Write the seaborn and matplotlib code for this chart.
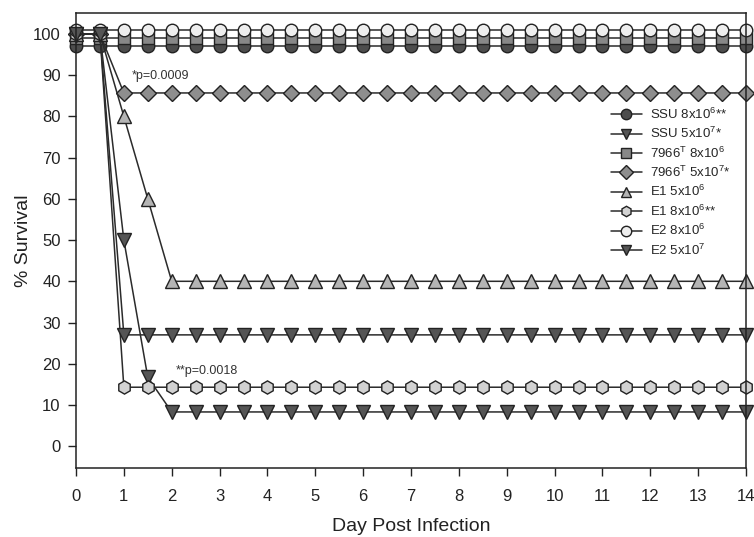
import matplotlib
matplotlib.use("Agg")
import matplotlib.pyplot as plt
import seaborn as sns

# ---------------------------------------------------------------
# data (day post infection, % survival)
# ---------------------------------------------------------------
days = [0, 0.5, 1, 1.5, 2, 2.5, 3, 3.5, 4, 4.5, 5, 5.5, 6, 6.5, 7, 7.5,
        8, 8.5, 9, 9.5, 10, 10.5, 11, 11.5, 12, 12.5, 13, 13.5, 14]

ssu_8e6 = [97, 97, 97, 97, 97, 97, 97, 97, 97, 97, 97, 97, 97, 97, 97, 97,
           97, 97, 97, 97, 97, 97, 97, 97, 97, 97, 97, 97, 97]
ssu_5e7 = [100, 100, 50, 16.7, 8.3, 8.3, 8.3, 8.3, 8.3, 8.3, 8.3, 8.3, 8.3, 8.3, 8.3, 8.3,
           8.3, 8.3, 8.3, 8.3, 8.3, 8.3, 8.3, 8.3, 8.3, 8.3, 8.3, 8.3, 8.3]
t7966_8e6 = [99, 99, 99, 99, 99, 99, 99, 99, 99, 99, 99, 99, 99, 99, 99, 99,
             99, 99, 99, 99, 99, 99, 99, 99, 99, 99, 99, 99, 99]
t7966_5e7 = [100, 100, 85.7, 85.7, 85.7, 85.7, 85.7, 85.7, 85.7, 85.7, 85.7, 85.7, 85.7, 85.7, 85.7, 85.7,
             85.7, 85.7, 85.7, 85.7, 85.7, 85.7, 85.7, 85.7, 85.7, 85.7, 85.7, 85.7, 85.7]
e1_5e6 = [100, 100, 80, 60, 40, 40, 40, 40, 40, 40, 40, 40, 40, 40, 40, 40,
          40, 40, 40, 40, 40, 40, 40, 40, 40, 40, 40, 40, 40]
e1_8e6 = [100, 100, 14.3, 14.3, 14.3, 14.3, 14.3, 14.3, 14.3, 14.3, 14.3, 14.3, 14.3, 14.3, 14.3, 14.3,
          14.3, 14.3, 14.3, 14.3, 14.3, 14.3, 14.3, 14.3, 14.3, 14.3, 14.3, 14.3, 14.3]
e2_8e6 = [101, 101, 101, 101, 101, 101, 101, 101, 101, 101, 101, 101, 101, 101, 101, 101,
          101, 101, 101, 101, 101, 101, 101, 101, 101, 101, 101, 101, 101]
e2_5e7 = [100, 100, 27, 27, 27, 27, 27, 27, 27, 27, 27, 27, 27, 27, 27, 27,
          27, 27, 27, 27, 27, 27, 27, 27, 27, 27, 27, 27, 27]

labels = [r"SSU 8x10$^{6}$**", r"SSU 5x10$^{7}$*",
          r"7966$^{\mathrm{T}}$ 8x10$^{6}$", r"7966$^{\mathrm{T}}$ 5x10$^{7}$*",
          r"E1 5x10$^{6}$", r"E1 8x10$^{6}$**",
          r"E2 8x10$^{6}$", r"E2 5x10$^{7}$"]
series = [ssu_8e6, ssu_5e7, t7966_8e6, t7966_5e7, e1_5e6, e1_8e6, e2_8e6, e2_5e7]

# marker and face colour per group
markers = ["o", "v", "s", "D", "^", "h", "o", "v"]
faces = ["#4d4d4d", "#555555", "#888888", "#8e8e8e", "#b4b4b4", "#d2d2d2", "#eeeeee", "#555555"]
msizes = [9, 9.5, 8, 8, 9.5, 9.5, 9, 9.5]

sns.set_style("ticks")
plt.rcParams["font.family"] = ["Liberation Sans", "DejaVu Sans"]
plt.rcParams["mathtext.fontset"] = "custom"
plt.rcParams["mathtext.rm"] = "Liberation Sans"

fig = plt.figure(figsize=(7.54, 5.37), dpi=100)
ax = fig.add_axes([76 / 754, 1 - 468 / 537, 670 / 754, 455 / 537])

for vals, lab, mk, fc, ms in zip(series, labels, markers, faces, msizes):
    sns.lineplot(x=days, y=vals, ax=ax, label=lab, color="#2b2b2b", linewidth=1.1,
                 marker=mk, markersize=ms, markerfacecolor=fc,
                 markeredgecolor="#222222", markeredgewidth=1.0, clip_on=False)

ax.text(1.17, 89, "*p=0.0009", fontsize=9, color="#333333")
ax.text(2.08, 17.5, "**p=0.0018", fontsize=9, color="#333333")

ax.set_xlim(0, 14)
ax.set_ylim(-5.3, 105.1)
ax.set_xticks(range(0, 15))
ax.set_yticks(range(0, 101, 10))
ax.tick_params(axis="both", labelsize=12, length=6, width=1, color="#222222",
               labelcolor="#222222")
ax.tick_params(axis="x", pad=9)
ax.tick_params(axis="y", pad=5)
for sp in ax.spines.values():
    sp.set_visible(True)
    sp.set_linewidth(1.1)
    sp.set_color("#222222")

ax.set_xlabel("Day Post Infection", fontsize=14, color="#222222", labelpad=10)
ax.set_ylabel("% Survival", fontsize=14, color="#222222", labelpad=1)

leg = ax.legend(loc="upper left", bbox_to_anchor=(0.791, 0.806), frameon=False,
                fontsize=9.5, handlelength=2.3, handletextpad=0.65, labelspacing=0.32,
                borderaxespad=0)
for h in leg.legend_handles:
    h.set_markersize(7.5)

fig.savefig("out.png", dpi=100)
